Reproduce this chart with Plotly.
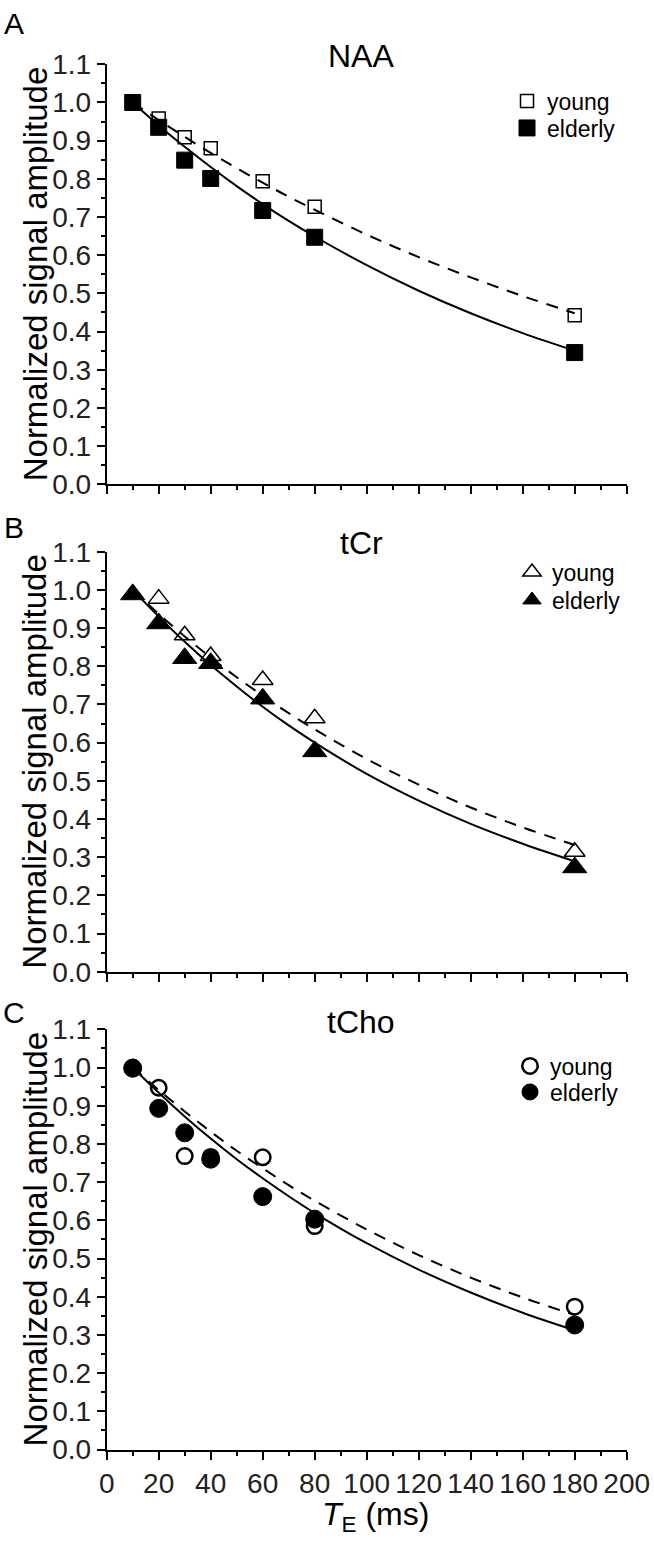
import plotly.graph_objects as go


# echo times (ms)
te = [10, 20, 30, 40, 60, 80, 180]
te_fit = [10, 20, 30, 40, 50, 60, 70, 80, 100, 120, 140, 160, 180]

# NAA
naa_young = [1.0, 0.958, 0.909, 0.880, 0.794, 0.727, 0.443]
naa_elderly = [1.0, 0.935, 0.849, 0.801, 0.717, 0.647, 0.345]
naa_young_fit = [1.000, 0.954, 0.910, 0.868, 0.828, 0.790, 0.753, 0.719, 0.654, 0.595, 0.542, 0.493, 0.448]
naa_elderly_fit = [1.000, 0.940, 0.884, 0.831, 0.781, 0.734, 0.690, 0.649, 0.574, 0.507, 0.448, 0.396, 0.350]

# tCr
tcr_young = [0.99, 0.977, 0.881, 0.827, 0.764, 0.664, 0.314]
tcr_elderly = [0.988, 0.912, 0.821, 0.808, 0.715, 0.577, 0.273]
tcr_young_fit = [1.000, 0.937, 0.878, 0.823, 0.771, 0.723, 0.677, 0.635, 0.557, 0.490, 0.430, 0.378, 0.332]
tcr_elderly_fit = [1.000, 0.930, 0.864, 0.803, 0.747, 0.694, 0.645, 0.600, 0.518, 0.448, 0.387, 0.335, 0.289]

# tCho
tcho_young = [1.0, 0.947, 0.768, 0.766, 0.765, 0.585, 0.374]
tcho_elderly = [0.998, 0.893, 0.829, 0.760, 0.662, 0.603, 0.326]
tcho_young_fit = [1.000, 0.941, 0.885, 0.832, 0.782, 0.736, 0.692, 0.651, 0.576, 0.509, 0.450, 0.398, 0.352]
tcho_elderly_fit = [1.000, 0.934, 0.872, 0.814, 0.760, 0.710, 0.663, 0.619, 0.540, 0.471, 0.411, 0.358, 0.312]

panel_titles = ["NAA", "tCr", "tCho"]
panel_letters = ["A", "B", "C"]
group_names = ["young", "elderly"]

W, H = 654, 1545
FONT = "Liberation Sans, Arial, sans-serif"
TICK_FONT = dict(family="Liberation Sans Narrow, Arial Narrow, Liberation Sans, sans-serif",
                 size=28, color="#222")


def px_x(p):
    return p / W


def px_y(p):
    return 1 - p / H


def label(fig, text, x, y, size, angle=0):
    fig.add_annotation(text=text, x=px_x(x), y=px_y(y), xref="paper", yref="paper",
                       xanchor="center", yanchor="middle", showarrow=False, textangle=angle,
                       font=dict(family=FONT, size=size, color="black"))


def plot_data():
    fig = go.Figure()

    # (top px, bottom px) of each plot area
    panels_px = [(64.3, 484.3), (551.7, 971.7), (1029.3, 1449.5)]
    x_dom = [px_x(106.7), px_x(626.7)]

    panels = [
        (naa_young, naa_elderly, naa_young_fit, naa_elderly_fit, "square", 13, 16, 1.5),
        (tcr_young, tcr_elderly, tcr_young_fit, tcr_elderly_fit, "triangle-up", 18, 21, 1.5),
        (tcho_young, tcho_elderly, tcho_young_fit, tcho_elderly_fit, "circle", 15.5, 18, 2.5),
    ]
    # legend: left px, (young y, elderly y) centres
    legend_pos = [(507, (101, 128)), (512, (572, 600)), (510, (1066, 1092))]
    title_y = [56, 543, 1022]
    letter_y = [23, 528, 1012]

    for i, (yng, eld, yng_fit, eld_fit, sym, s_open, s_fill, lw_open) in enumerate(panels):
        n = "" if i == 0 else str(i + 1)
        xa, ya = "x" + n, "y" + n
        leg_y = "legend" + ("" if i == 0 else str(2 * i + 1))
        leg_e = "legend" + str(2 * i + 2)

        fig.add_trace(go.Scatter(x=te_fit, y=yng_fit, mode="lines", line_shape="spline",
                                 line=dict(color="black", width=2, dash="12px,9px"),
                                 xaxis=xa, yaxis=ya, showlegend=False, hoverinfo="skip"))
        fig.add_trace(go.Scatter(x=te_fit, y=eld_fit, mode="lines", line_shape="spline",
                                 line=dict(color="black", width=2),
                                 xaxis=xa, yaxis=ya, showlegend=False, hoverinfo="skip"))
        fig.add_trace(go.Scatter(x=te, y=yng, mode="markers", name=group_names[0],
                                 marker=dict(symbol=sym + "-open", size=s_open, color="black",
                                             line=dict(width=lw_open)),
                                 xaxis=xa, yaxis=ya, legend=leg_y))
        fig.add_trace(go.Scatter(x=te, y=eld, mode="markers", name=group_names[1],
                                 marker=dict(symbol=sym, size=s_fill, color="black",
                                             line=dict(width=1, color="black")),
                                 xaxis=xa, yaxis=ya, legend=leg_e))

        top, bot = panels_px[i]
        fig.layout["xaxis" + n] = dict(
            domain=x_dom, anchor=ya, range=[0, 200], dtick=20, tick0=0,
            showline=True, linecolor="black", linewidth=2, mirror=False,
            ticks="outside", ticklen=8, tickwidth=2, tickcolor="black",
            minor=dict(dtick=10, ticks="outside", ticklen=4, tickwidth=2, tickcolor="black"),
            showgrid=False, zeroline=False, automargin=False,
            showticklabels=(i == 2), tickfont=TICK_FONT,
        )
        fig.layout["yaxis" + n] = dict(
            domain=[px_y(bot), px_y(top)], anchor=xa, range=[0, 1.1], dtick=0.1, tick0=0,
            tickformat=".1f",
            showline=True, linecolor="black", linewidth=2,
            ticks="outside", ticklen=8, tickwidth=2, tickcolor="black",
            minor=dict(dtick=0.05, ticks="outside", ticklen=4, tickwidth=2, tickcolor="black"),
            showgrid=False, zeroline=False, automargin=False, tickfont=TICK_FONT,
        )
        lx, (yy, ey) = legend_pos[i]
        for leg, ly in ((leg_y, yy), (leg_e, ey)):
            fig.layout[leg] = dict(
                x=px_x(lx), y=px_y(ly), xanchor="left", yanchor="middle",
                font=dict(family=FONT, size=23, color="black"),
                bgcolor="rgba(0,0,0,0)", itemsizing="trace",
            )

        label(fig, panel_titles[i], 361, title_y[i], 32)
        label(fig, panel_letters[i], 14, letter_y[i], 30)
        label(fig, "Normalized signal amplitude", 35, (top + bot) / 2, 33, angle=-90)

    label(fig, "<i>T</i><sub>E</sub> (ms)", 375, 1516, 32)

    fig.update_layout(template="none", width=W, height=H,
                      margin=dict(l=0, r=0, t=0, b=0, autoexpand=False),
                      plot_bgcolor="white", paper_bgcolor="white")

    # drop the default page margin so the figure sits at the window's corner
    fig.write_html("out.html", config={"displayModeBar": False},
                   post_script="document.body.style.margin='0';")


if __name__ == "__main__":
    plot_data()
